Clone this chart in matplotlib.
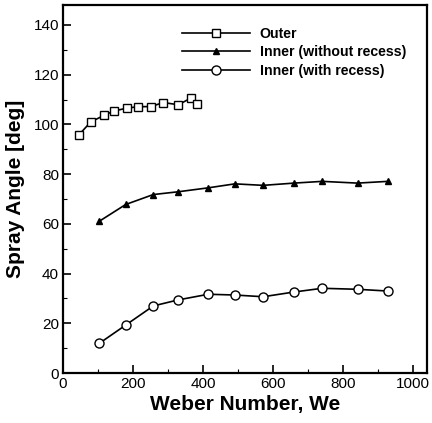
import matplotlib
matplotlib.use('Agg')
import matplotlib.pyplot as plt
from matplotlib.ticker import MultipleLocator

# data
outer_we = [46, 79, 118, 145, 184, 213, 251, 287, 330, 365, 382]
outer_angle = [95.9, 101.0, 103.7, 105.4, 106.6, 107.1, 107.2, 108.8, 107.9, 110.6, 108.2]

inner_we = [104, 179, 258, 328, 415, 491, 572, 660, 741, 842, 928]
no_recess_angle = [61.1, 67.8, 71.8, 72.9, 74.5, 76.1, 75.5, 76.4, 77.1, 76.4, 77.1]
recess_angle = [12.0, 19.3, 27.0, 29.4, 31.7, 31.4, 30.7, 32.6, 34.1, 33.7, 33.0]

plt.rcParams['font.family'] = ['Liberation Sans', 'DejaVu Sans']

fig = plt.figure(figsize=(4.32, 4.23), dpi=100)
ax = fig.add_axes([0.146, 0.118, 0.842, 0.870])

ax.plot(outer_we, outer_angle, color='black', lw=1.2, marker='s', ms=5.5,
        mfc='white', mec='black', mew=1.0, label='Outer')
ax.plot(inner_we, no_recess_angle, color='black', lw=1.2, marker='^', ms=5,
        mfc='black', mec='black', label='Inner (without recess)')
ax.plot(inner_we, recess_angle, color='black', lw=1.2, marker='o', ms=6.5,
        mfc='white', mec='black', mew=1.0, label='Inner (with recess)')

ax.set_xlim(0, 1040)
ax.set_ylim(0, 148)
ax.xaxis.set_major_locator(MultipleLocator(200))
ax.xaxis.set_minor_locator(MultipleLocator(100))
ax.yaxis.set_major_locator(MultipleLocator(20))
ax.yaxis.set_minor_locator(MultipleLocator(10))
ax.tick_params(which='major', direction='in', length=6, width=1.2, labelsize=11, pad=3)
ax.tick_params(which='minor', direction='in', length=3, width=0.8)
for s in ax.spines.values():
    s.set_linewidth(1.6)

ax.set_xlabel('Weber Number, We', fontsize=15, fontweight='bold', labelpad=3)
ax.set_ylabel('Spray Angle [deg]', fontsize=15, fontweight='bold', labelpad=6)

leg = ax.legend(loc='upper right', bbox_to_anchor=(0.978, 0.975), frameon=False,
                handlelength=4.8, fontsize=10.2, labelspacing=0.3, handletextpad=0.7)
for t in leg.get_texts():
    t.set_fontweight('bold')

fig.savefig('out.png', dpi=100)
